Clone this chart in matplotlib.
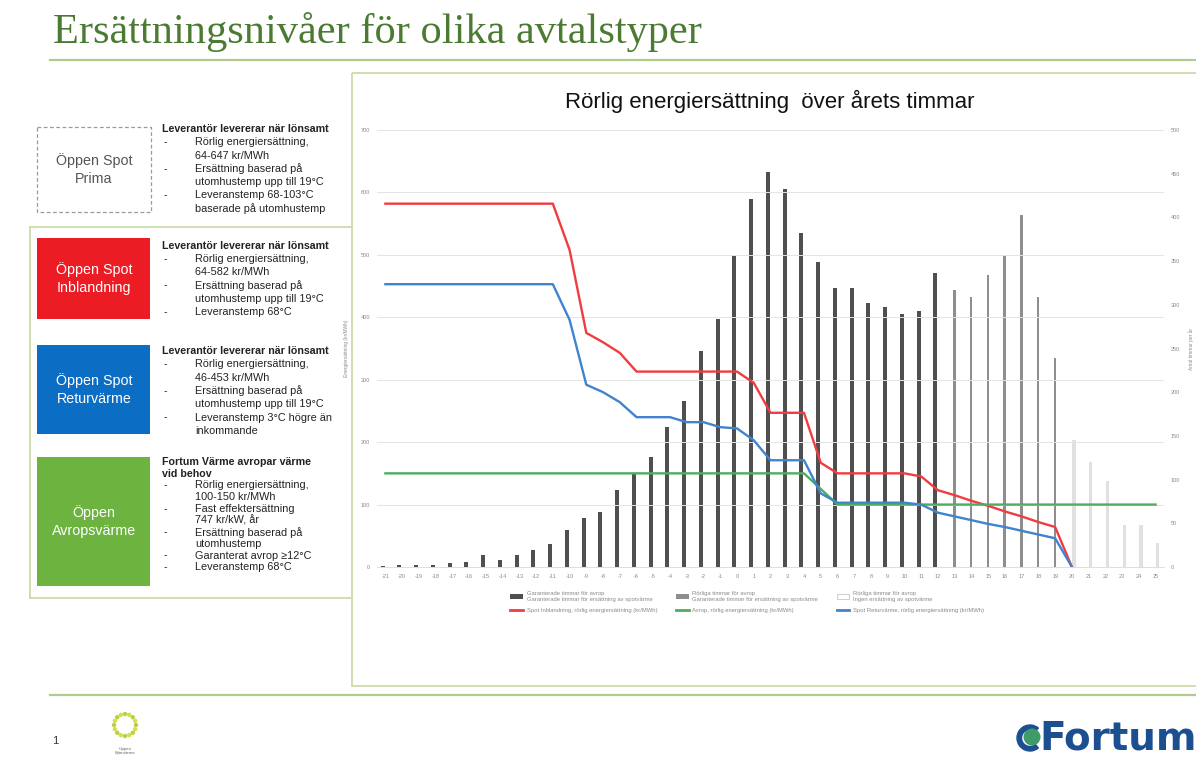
import numpy as np
import matplotlib.pyplot as plt
from matplotlib.patches import Rectangle, Patch, Circle, Wedge
from matplotlib.lines import Line2D

plt.rcParams['font.family'] = ['Liberation Sans', 'DejaVu Sans']

W, H = 1196, 760

# utomhustemperatur (kategorier på x-axeln)
temps = [-21, -20, -19, -18, -17, -16, -15, -14, -13, -12, -11, -10, -9, -8, -7, -6,
         -5, -4, -3, -2, -1, 0, 1, 2, 3, 4, 5, 6, 7, 8, 9, 10, 11, 12, 13, 14, 15, 16,
         17, 18, 19, 20, 21, 22, 23, 24, 25]

# timmar per år (höger axel)
hours_garant = [1, 2, 2, 2, 5, 6, 14, 8, 14, 19, 26, 42, 56, 63, 88, 108, 126, 160,
                190, 247, 284, 356, 421, 452, 433, 382, 349, 319, 319, 302, 297, 290,
                293, 336]
hours_rorlig = [317, 309, 334, 357, 403, 309, 239]
hours_ingen = [145, 120, 98, 48, 48, 27]

# rörlig energiersättning kr/MWh (vänster axel)
spot_inbl = [582, 582, 582, 582, 582, 582, 582, 582, 582, 582, 582, 508, 375, 360,
             343, 313, 313, 313, 313, 313, 313, 313, 295, 247, 247, 247, 167, 150,
             150, 150, 150, 150, 145, 123, 115, 106, 98, 89, 81, 72, 64, 0]
spot_retur = [453, 453, 453, 453, 453, 453, 453, 453, 453, 453, 453, 396, 292, 280,
              264, 240, 240, 240, 232, 232, 224, 222, 203, 171, 171, 171, 118, 103,
              103, 103, 103, 103, 100, 87, 81, 75, 69, 64, 58, 52, 46, 0]
avrop = [150, 150, 150, 150, 150, 150, 150, 150, 150, 150, 150, 150, 150, 150, 150,
         150, 150, 150, 150, 150, 150, 150, 150, 150, 150, 150, 125, 100, 100, 100,
         100, 100, 100, 100, 100, 100, 100, 100, 100, 100, 100, 100, 100, 100, 100,
         100, 100]

price_ticks = [0, 100, 200, 300, 400, 500, 600, 700]
hour_ticks = [0, 50, 100, 150, 200, 250, 300, 350, 400, 450, 500]

legend_labels = [
    "Garanterade timmar för avrop\nGaranterade timmar för ersättning av spotvärme",
    "Rörliga timmar för avrop\nGaranterade timmar för ersättning av spotvärme",
    "Rörliga timmar för avrop\nIngen ersättning av spotvärme",
    "Spot Inblandning, rörlig energiersättning (kr/MWh)",
    "Avrop, rörlig energiersättning (kr/MWh)",
    "Spot Returvärme, rörlig energiersättning (kr/MWh)",
]

# vänster panel: etikett, färg, box y0, y1, rubrikrader, punkter, text-y, radavstånd
panels = [
    ("Öppen Spot\nPrima", None, 127, 212,
     ["Leverantör levererar när lönsamt"],
     [["Rörlig energiersättning,", "64-647 kr/MWh"],
      ["Ersättning baserad på", "utomhustemp upp till 19°C"],
      ["Leveranstemp 68-103°C", "baserade på utomhustemp"]], 129, 13.3),
    ("Öppen Spot\nInblandning", '#ec1c24', 238, 319,
     ["Leverantör levererar när lönsamt"],
     [["Rörlig energiersättning,", "64-582 kr/MWh"],
      ["Ersättning baserad på", "utomhustemp upp till 19°C"],
      ["Leveranstemp 68°C"]], 246, 13.2),
    ("Öppen Spot\nReturvärme", '#0b6dc3', 345, 434,
     ["Leverantör levererar när lönsamt"],
     [["Rörlig energiersättning,", "46-453 kr/MWh"],
      ["Ersättning baserad på", "utomhustemp upp till 19°C"],
      ["Leveranstemp 3°C högre än", "inkommande"]], 351, 13.3),
    ("Öppen\nAvropsvärme", '#6cb33f', 457, 586,
     ["Fortum Värme avropar värme", "vid behov"],
     [["Rörlig energiersättning,", "100-150 kr/MWh"],
      ["Fast effektersättning", "747 kr/kW, år"],
      ["Ersättning baserad på", "utomhustemp"],
      ["Garanterat avrop ≥12°C"],
      ["Leveranstemp 68°C"]], 462, 11.7),
]

fig = plt.figure(figsize=(W / 100, H / 100), dpi=100)

# ---- bakgrund / slide-dekor i pixelkoordinater
deco = fig.add_axes([0, 0, 1, 1])
deco.set_xlim(0, W)
deco.set_ylim(H, 0)
deco.axis('off')
deco.set_zorder(0)

deco.text(53, 32, "Ersättningsnivåer för olika avtalstyper", family='Liberation Serif',
          fontsize=30.5, color='#4b7a32', va='center', ha='left')
deco.plot([50, W], [60, 60], color='#b3c98d', lw=1.6)
deco.plot([50, W], [695, 695], color='#b3c98d', lw=1.6)

# diagramram
deco.add_patch(Rectangle((352, 73), 860, 613, fill=False, ec='#cadcaa', lw=1.3))
# ram runt vänstra boxarna
deco.plot([30, 352], [227, 227], color='#cadcaa', lw=1.3)
deco.plot([30, 30], [227, 598], color='#cadcaa', lw=1.3)
deco.plot([30, 352], [598, 598], color='#cadcaa', lw=1.3)

for label, col, y0, y1, heads, bullets, ty, step in panels:
    if col is None:
        deco.add_patch(Rectangle((37, y0), 114, y1 - y0, fill=False, ec='#9a9a9a',
                                 lw=0.9, ls=(0, (3, 2))))
        tc = '#555555'
    else:
        deco.add_patch(Rectangle((37, y0), 113, y1 - y0, fc=col, ec='none'))
        tc = 'white'
    deco.text(94, (y0 + y1) / 2, label, ha='center', va='center', fontsize=10.3,
              color=tc, linespacing=1.3)
    y = ty
    for h in heads:
        deco.text(162, y, h, fontsize=7.7, fontweight='bold', color='#222222',
                  va='center', ha='left')
        y += step
    for b in bullets:
        deco.text(164, y, "-", fontsize=7.7, color='#222222', va='center')
        for line in b:
            deco.text(195, y, line, fontsize=7.8, color='#222222', va='center')
            y += step

# sidfot
deco.text(55, 741, "1", fontsize=8, color='#333333', va='center', ha='center')
ang = np.linspace(0, 2 * np.pi, 16, endpoint=False)
for k, a in enumerate(ang):
    deco.add_patch(Circle((125 + 11 * np.cos(a), 725 + 11 * np.sin(a)), 2.2,
                          color='#d6df4a' if k % 2 else '#b9cf45', ec='none'))
deco.text(125, 751, "Öppen\nFjärrvärme", fontsize=3.2, color='#666666', ha='center',
          va='center', linespacing=1.0)

deco.add_patch(Wedge((1030, 738), 13, 50, 310, width=4.5, color='#1c4f8f'))
deco.add_patch(Circle((1032, 737), 8.5, color='#3f9b6a', ec='none'))
deco.text(1039, 738, "Fortum", family='DejaVu Sans', fontweight='bold', fontsize=28,
          color='#1c4f8f', va='center', ha='left')

# ---- diagram
fig.text(770 / W, 1 - 101 / H, "Rörlig energiersättning  över årets timmar",
         ha='center', va='center', fontsize=16, color='#111111')

ax = fig.add_axes([377 / W, 1 - 567 / H, 787 / W, 437 / H])
ax.set_zorder(2)
ax.patch.set_visible(False)
axh = ax.twinx()
axh.set_zorder(1)

x = np.arange(len(temps))
n1, n2 = len(hours_garant), len(hours_rorlig)
b1 = axh.bar(x[:n1] - 0.16, hours_garant, width=0.24, color='#4f4f4f')
b2 = axh.bar(x[n1:n1 + n2] - 0.02, hours_rorlig, width=0.14, color='#8e8e8e')
b3 = axh.bar(x[n1 + n2:] + 0.1, hours_ingen, width=0.14, color='#e2e2e2',
             ec='#d2d2d2', lw=0.4)

l1, = ax.plot(x[:len(spot_inbl)], spot_inbl, color='#f03c41', lw=1.7)
l2, = ax.plot(x[:len(avrop)], avrop, color='#4cae5e', lw=1.7)
l3, = ax.plot(x[:len(spot_retur)], spot_retur, color='#3f84cc', lw=1.7)

ax.set_xlim(-0.5, len(temps) - 0.5)
ax.set_ylim(0, 700)
axh.set_ylim(0, 500)
ax.set_yticks(price_ticks)
axh.set_yticks(hour_ticks)
ax.set_xticks(x)
ax.set_xticklabels([str(t) for t in temps])
ax.grid(axis='y', color='#e4e4e4', lw=0.7)
ax.set_axisbelow(True)
for a in (ax, axh):
    for s in a.spines.values():
        s.set_visible(False)
    a.tick_params(length=0, labelsize=4, labelcolor='#8a8a8a', pad=5)
ax.spines['bottom'].set_visible(True)
ax.spines['bottom'].set_color('#d8d8d8')
ax.spines['bottom'].set_linewidth(0.6)
ax.set_ylabel("Energiersättning (kr/MWh)", fontsize=3.5, color='#8a8a8a', labelpad=8)
axh.set_ylabel("Antal timmar per år", fontsize=3.5, color='#8a8a8a', labelpad=6)

handles = [Patch(fc='#4f4f4f'), Line2D([], [], color='#f03c41', lw=2),
           Patch(fc='#8e8e8e'), Line2D([], [], color='#4cae5e', lw=2),
           Patch(fc='white', ec='#bbbbbb', lw=0.5), Line2D([], [], color='#3f84cc', lw=2)]
labels = [legend_labels[0], legend_labels[3], legend_labels[1], legend_labels[4],
          legend_labels[2], legend_labels[5]]
fig.legend(handles, labels, ncol=3, loc='upper left',
           bbox_to_anchor=(505 / W, 1 - 586 / H), fontsize=4.2, frameon=False,
           labelcolor='#8a8a8a', handlelength=2.2, handleheight=0.8,
           columnspacing=3.2, labelspacing=1.0, handletextpad=0.6)

fig.savefig('out.png', dpi=100)
